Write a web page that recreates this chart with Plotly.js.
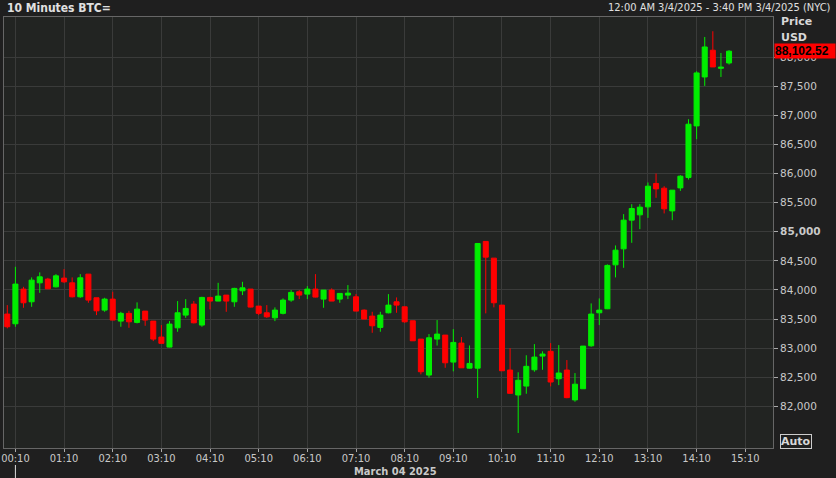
<!DOCTYPE html>
<html>
<head>
<meta charset="utf-8">
<script src="https://cdn.plot.ly/plotly-3.0.1.min.js"></script>
<style>
  html, body { margin: 0; padding: 0; background: #1f1f1f; }
  #chart { width: 836px; height: 478px; }
</style>
</head>
<body>
<div id="chart"></div>
<script>
// ---- data (10-minute bars, March 04 2025) ----
const tradeDate = "2025-03-04";
const times = [
  "00:00","00:10","00:20","00:30","00:40","00:50",
  "01:00","01:10","01:20","01:30","01:40","01:50",
  "02:00","02:10","02:20","02:30","02:40","02:50",
  "03:00","03:10","03:20","03:30","03:40","03:50",
  "04:00","04:10","04:20","04:30","04:40","04:50",
  "05:00","05:10","05:20","05:30","05:40","05:50",
  "06:00","06:10","06:20","06:30","06:40","06:50",
  "07:00","07:10","07:20","07:30","07:40","07:50",
  "08:00","08:10","08:20","08:30","08:40","08:50",
  "09:00","09:10","09:20","09:30","09:40","09:50",
  "10:00","10:10","10:20","10:30","10:40","10:50",
  "11:00","11:10","11:20","11:30","11:40","11:50",
  "12:00","12:10","12:20","12:30","12:40","12:50",
  "13:00","13:10","13:20","13:30","13:40","13:50",
  "14:00","14:10","14:20","14:30","14:40","14:50"
];
const openPrices = [
  83586,83419,84015,83797,84123,84187,84054,84204,84123,83883,
  84272,83866,83654,83843,83465,83598,83443,83637,83465,83191,
  83019,83350,83568,83757,83397,83872,83809,83912,83797,83986,
  84015,83723,83608,83522,83598,83826,83969,83929,84015,83843,
  83998,83843,83912,83883,83654,83551,83357,83608,83797,83711,
  83471,83156,82538,83156,83225,82761,83088,82657,82657,84834,
  84547,83740,82624,82196,82349,82629,82864,82946,82475,82624,
  82111,82303,83041,83608,83677,84432,84707,85200,85291,85428,
  85830,85749,85359,85754,85933,86819,87660,88119,87809,87900
];
const highPrices = [
  83740,84398,84054,84216,84302,84209,84272,84358,84216,84272,
  84272,83866,83866,83969,83625,83642,83787,83637,83465,83397,
  83465,83809,83843,83809,83883,83883,84123,83912,84037,84140,
  84015,83723,83740,83701,83855,83998,83998,84066,84272,83998,
  84027,83941,84084,83929,83666,83625,83625,83929,83872,83711,
  83471,83156,83242,83483,83225,83328,83191,83047,84799,84834,
  84547,83740,83000,82586,82878,83070,82946,83087,83053,82796,
  82572,83036,83769,83855,84440,84765,85303,85474,85474,85847,
  86001,85783,85715,85972,86934,87758,88347,88445,88072,88120
];
const lowPrices = [
  83340,83368,83694,83711,83951,84015,84044,84123,83872,83866,
  83780,83568,83625,83483,83368,83350,83426,83385,83122,83083,
  83014,83282,83522,83426,83368,83666,83809,83625,83711,83912,
  83701,83568,83522,83465,83580,83797,83843,83843,83872,83694,
  83809,83780,83843,83637,83500,83264,83282,83598,83608,83436,
  83127,82550,82492,83045,82663,82602,82663,82650,82143,83598,
  83701,82612,82224,81543,82217,82595,82629,82344,82365,82140,
  82080,82303,83024,83397,83671,84216,84381,84810,85045,85239,
  85583,85315,85200,85703,85898,86590,87506,87832,87660,87873
];
const closePrices = [
  83368,84101,83780,84169,84226,84020,84243,84140,83883,84209,
  83826,83642,83843,83483,83598,83453,83671,83483,83156,83083,
  83414,83608,83683,83436,83872,83809,83895,83809,84027,84037,
  83706,83598,83539,83654,83826,83958,83912,84015,83878,83998,
  83809,83941,83946,83637,83500,83385,83568,83740,83740,83453,
  83127,82595,83179,83242,82749,83099,82663,82738,84799,84564,
  83780,82612,82224,82449,82688,82847,82899,82419,82573,82150,
  82381,83036,83586,83654,84422,84684,85200,85400,85423,85783,
  85737,85394,85715,85955,86848,87729,88175,87832,87827,88102.52
];
const priceTicks = [82000,82500,83000,83500,84000,84500,85000,85500,86000,86500,87000,87500,88000];
const priceTickLabels = ["82,000","82,500","83,000","83,500","84,000","84,500","<b>85,000</b>","85,500","86,000","86,500","87,000","87,500","88,000"];
const lastPriceLabel = "88,102.52";
const headerLeft = "10 Minutes BTC=";
const headerRight = "12:00 AM 3/4/2025 - 3:40 PM 3/4/2025 (NYC)";
const dateLabel = "March 04 2025";

// ---- chart ----
const xs = times.map(t => tradeDate + " " + t);
const lastClose = closePrices[closePrices.length - 1];

const condensed = "'DejaVu Sans Condensed', 'Liberation Sans Narrow', 'DejaVu Sans', sans-serif";
const txtColor = "#c9c9c9";

const trace = {
  type: "candlestick",
  x: xs,
  open: openPrices,
  high: highPrices,
  low: lowPrices,
  close: closePrices,
  increasing: { line: { color: "#00ee00", width: 1 }, fillcolor: "#00ee00" },
  decreasing: { line: { color: "#ff0000", width: 1 }, fillcolor: "#ff0000" },
  whiskerwidth: 0,
  hoverinfo: "skip",
  showlegend: false
};

const layout = {
  width: 836,
  height: 478,
  margin: { l: 4, r: 63, t: 17, b: 30 },
  paper_bgcolor: "#1f1f1f",
  plot_bgcolor: "#222422",
  boxgap: 0.38,
  boxgroupgap: 0,
  font: { family: condensed, color: txtColor, size: 11 },
  xaxis: {
    type: "date",
    range: ["2025-03-03 23:55:56", "2025-03-04 15:44:12"],
    rangeslider: { visible: false },
    tickmode: "linear",
    tick0: "2025-03-04 00:10",
    dtick: 3600000,
    tickformat: "%H:%M",
    ticks: "outside",
    ticklen: 3,
    ticklabelstandoff: -3,
    tickcolor: "#aaaaaa",
    tickfont: { family: condensed, size: 11, color: txtColor },
    showgrid: true,
    gridcolor: "#3a3b3a",
    gridwidth: 1,
    showline: true,
    linecolor: "#666666",
    linewidth: 1,
    mirror: true,
    zeroline: false,
    fixedrange: true
  },
  yaxis: {
    side: "right",
    range: [81285, 88690],
    tickmode: "array",
    tickvals: priceTicks,
    ticktext: priceTickLabels,
    ticks: "outside",
    ticklen: 4,
    tickcolor: "#aaaaaa",
    tickfont: { family: "'DejaVu Sans', sans-serif", size: 10.5, color: txtColor },
    showgrid: true,
    gridcolor: "#3a3b3a",
    gridwidth: 1,
    showline: true,
    linecolor: "#666666",
    linewidth: 1,
    mirror: true,
    zeroline: false,
    fixedrange: true
  },
  annotations: [
    { text: "<b>" + headerLeft + "</b>", xref: "paper", yref: "paper", x: 0.0013, y: 1.0209,
      xanchor: "left", yanchor: "middle", showarrow: false,
      font: { family: condensed, size: 12, color: "#e0e0e0" } },
    { text: headerRight, xref: "paper", yref: "paper", x: 1.078, y: 1.0209,
      xanchor: "right", yanchor: "middle", showarrow: false,
      font: { family: condensed, size: 11, color: "#e0e0e0" } },
    { text: "<b>Price</b>", xref: "paper", yref: "paper", x: 1.0078, y: 0.9884,
      xanchor: "left", yanchor: "middle", showarrow: false,
      font: { family: "'DejaVu Sans', sans-serif", size: 11, color: "#d8d8d8" } },
    { text: "<b>USD</b>", xref: "paper", yref: "paper", x: 1.0078, y: 0.9513,
      xanchor: "left", yanchor: "middle", showarrow: false,
      font: { family: "'DejaVu Sans', sans-serif", size: 11, color: "#d8d8d8" } },
    { text: "<b>" + lastPriceLabel + "</b>", xref: "paper", yref: "y", x: 1.0013, y: lastClose,
      xanchor: "left", yanchor: "middle", showarrow: false, bgcolor: "#ff0000", borderpad: 0,
      width: 60, align: "left",
      font: { family: "'Liberation Sans', Arial, sans-serif", size: 12, color: "#000000" } },
    { text: "<b>Auto</b>", xref: "paper", yref: "paper", x: 1.009, y: 0.0162,
      xanchor: "left", yanchor: "middle", showarrow: false,
      bordercolor: "#cccccc", borderwidth: 1, borderpad: 0,
      font: { family: "'DejaVu Sans', sans-serif", size: 11, color: "#d8d8d8" } },
    { text: "<b>" + dateLabel + "</b>", xref: "paper", yref: "paper", x: 0.5085, y: -0.0534,
      xanchor: "center", yanchor: "middle", showarrow: false,
      font: { family: condensed, size: 11, color: txtColor } }
  ],
  shapes: [
    { type: "line", xref: "x", yref: "paper", x0: xs[1], x1: xs[1], y0: -0.0394, y1: -0.0696,
      line: { color: "#dddddd", width: 1 } }
  ]
};

Plotly.newPlot("chart", [trace], layout, { displayModeBar: false, staticPlot: true });
</script>
</body>
</html>
